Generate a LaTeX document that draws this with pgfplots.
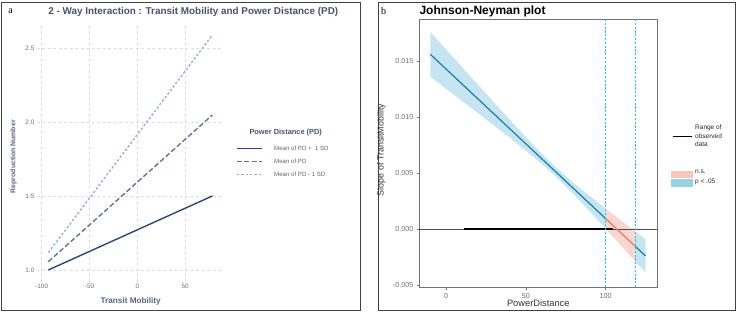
\documentclass[border=0pt]{standalone}
\usepackage{fontspec}
\setmainfont{Liberation Sans}
\newfontfamily\serifletter{Liberation Serif}
\usepackage{pgfplots}
\pgfplotsset{compat=1.18}
\definecolor{titlecol}{RGB}{72,82,108}
\definecolor{navy}{RGB}{48,70,115}
\definecolor{midblue}{RGB}{95,115,155}
\definecolor{liteblue}{RGB}{150,175,222}
\definecolor{gridgray}{RGB}{222,222,222}
\definecolor{bandblue}{RGB}{198,229,240}
\definecolor{bandpink}{RGB}{250,214,208}
\definecolor{lineblue}{RGB}{22,128,172}
\definecolor{linesalmon}{RGB}{226,122,106}
\definecolor{jncyan}{RGB}{30,200,232}
\definecolor{legblue}{RGB}{150,210,228}
\definecolor{legpink}{RGB}{248,196,190}
\definecolor{tickgray}{RGB}{110,110,110}
\begin{document}
\begin{tikzpicture}[x=1pt,y=1pt]
\path (0,0) rectangle (739,313);
% frames
\draw[line width=1.3pt, black!75] (1.5,2.2) rectangle (360.7,310.8);
\draw[line width=1.3pt, black!75] (378.3,2.2) rectangle (735.8,310.8);
\node[font=\serifletter\fontsize{10}{11}\selectfont] at (10.5,301.5) {a};
\node[font=\serifletter\fontsize{10}{11}\selectfont] at (383.5,301.5) {b};

% ---------------- Panel a ----------------
\begin{axis}[
  at={(36.9pt,31.2pt)}, anchor=south west,
  width=183.6pt, height=257.5pt, scale only axis,
  xmin=-105, xmax=87, ymin=0.92, ymax=2.66,
  axis line style={draw=none}, tick style={draw=none},
  xtick={-100,-50,0,50}, ytick={1,1.5,2,2.5},
  grid=major, major grid style={gridgray, dash pattern=on 3pt off 2.5pt, line width=0.6pt},
  /pgf/number format/assume math mode=true,
  yticklabel style={/pgf/number format/fixed, /pgf/number format/fixed zerofill, /pgf/number format/precision=1, xshift=1pt},
  tick label style={font=\fontsize{6.4}{7}\selectfont, text=tickgray},
  xticklabel style={yshift=1pt},
  clip=false,
]
\addplot[navy, line width=1.4pt] coordinates {(-93,1.0) (78.5,1.5)};
\addplot[midblue, line width=1.4pt, dash pattern=on 5pt off 2.5pt] coordinates {(-93,1.056) (78.5,2.047)};
\addplot[liteblue, line width=1.4pt, dash pattern=on 2.4pt off 2pt] coordinates {(-93,1.117) (78.5,2.588)};
\end{axis}
\node[font=\bfseries\fontsize{9.9}{11}\selectfont, text=titlecol] at (193.3,300.8) {2 - Way Interaction : Transit Mobility and Power Distance (PD)};
\node[font=\bfseries\fontsize{8.2}{9}\selectfont, text=titlecol!90] at (130.7,11.3) {Transit Mobility};
\node[font=\bfseries\fontsize{6.9}{8}\selectfont, text=titlecol!90, rotate=90] at (13.5,156.3) {Reproduction Number};
% legend a
\node[font=\bfseries\fontsize{7.4}{8}\selectfont, text=titlecol] at (285.7,180.3) {Power Distance (PD)};
\draw[navy, line width=1.4pt] (236.7,164.7) -- (262.3,164.7);
\draw[midblue, line width=1.4pt, dash pattern=on 5pt off 2.5pt] (236.7,151.3) -- (262.3,151.3);
\draw[liteblue, line width=1.4pt, dash pattern=on 2.4pt off 2pt] (236.7,138.7) -- (262.3,138.7);
\begin{scope}[every node/.style={anchor=west, font=\fontsize{6.1}{7}\selectfont, text=tickgray!90!black, inner sep=0pt}]
\node at (274,164.7) {Mean of PD + \ 1 SD};
\node at (274,151.3) {Mean of PD};
\node at (274,138.7) {Mean of PD - 1 SD};
\end{scope}

% ---------------- Panel b ----------------
\begin{axis}[
  at={(419.3pt,25.7pt)}, anchor=south west,
  width=238pt, height=268pt, scale only axis,
  xmin=-16.9, xmax=132.4, ymin=-0.00518, ymax=0.01872,
  axis line style={black!55, line width=0.6pt},
  tick align=outside, tick style={black!55, line width=0.5pt}, major tick length=2.5pt,
  xtick={0,50,100}, ytick={-0.005,0,0.005,0.01,0.015},
  scaled y ticks=false,
  /pgf/number format/assume math mode=true,
  yticklabel style={/pgf/number format/fixed, /pgf/number format/fixed zerofill, /pgf/number format/precision=3},
  tick label style={font=\fontsize{7.2}{8}\selectfont, text=tickgray},
  xtick pos=bottom, ytick pos=left,
]
% significant band (left)
\addplot[fill=bandblue, draw=none] coordinates {
 (-10,0.017600) (0,0.016022) (10,0.014447) (20,0.012874) (30,0.011307) (40,0.009749)
 (50,0.008212) (60,0.006724) (68,0.005610) (80,0.004113) (90,0.002962) (100,0.001846)
 (100,0.000050) (90,0.001598) (80,0.003111) (68,0.004810) (60,0.005828) (50,0.007004)
 (40,0.008131) (30,0.009237) (20,0.010334) (10,0.011425) (0,0.012514) (-10,0.013600)} -- cycle;
% non-significant band
\addplot[fill=bandpink, draw=none] coordinates {
 (100,0.001846) (110,0.000744) (118.7,-0.000208)
 (118.7,-0.002878) (110,-0.001512) (100,0.000050)} -- cycle;
% significant band (right)
\addplot[fill=bandblue, draw=none] coordinates {
 (118.7,-0.000208) (125,-0.000892) (125,-0.003872) (118.7,-0.002878)} -- cycle;
% zero line
\addplot[black!70, line width=0.6pt] coordinates {(-16.9,0) (132.4,0)};
% observed range
\addplot[black, line width=1.8pt] coordinates {(11,0) (104.5,0)};
% slope line
\addplot[lineblue, line width=1.2pt] coordinates {(-10,0.01560) (100,0.000948)};
\addplot[linesalmon, line width=1.2pt] coordinates {(100,0.000948) (118.7,-0.001543)};
\addplot[lineblue, line width=1.2pt] coordinates {(118.7,-0.001543) (125,-0.002382)};
% JN bounds
\addplot[draw=jncyan, color=jncyan, line width=0.9pt, dash pattern=on 2.2pt off 1.6pt, mark=none] coordinates {(99.7,-0.00518) (99.7,0.01872)};
\addplot[draw=jncyan, color=jncyan, line width=0.9pt, dash pattern=on 2.2pt off 1.6pt, mark=none] coordinates {(118.7,-0.00518) (118.7,0.01872)};
\end{axis}
\node[font=\bfseries\fontsize{12}{13}\selectfont, anchor=west, inner sep=0pt] at (419.3,302) {Johnson-Neyman plot};
\node[font=\fontsize{9.3}{10}\selectfont, text=black!80] at (538.3,10.3) {PowerDistance};
\node[font=\fontsize{8.9}{10}\selectfont, text=black!80, rotate=90] at (381.3,163) {Slope of TransitMobility};
% legend b
\draw[black, line width=1.3pt] (672.7,176.3) -- (691.7,176.3);
\node[anchor=west, align=left, inner sep=0pt, font=\fontsize{6.5}{8.4}\selectfont, text=black!85] at (695,177) {Range of\\observed\\data};
\fill[legpink] (670.7,134.5) rectangle (692.7,142.3);
\fill[legblue] (670.7,126.0) rectangle (692.7,134.3);
\node[anchor=west, inner sep=0pt, font=\fontsize{6.5}{7}\selectfont, text=black!85] at (695,141.3) {n.s.};
\node[anchor=west, inner sep=0pt, font=\fontsize{6.5}{7}\selectfont, text=black!85] at (695,131.3) {p < .05};
\end{tikzpicture}
\end{document}
